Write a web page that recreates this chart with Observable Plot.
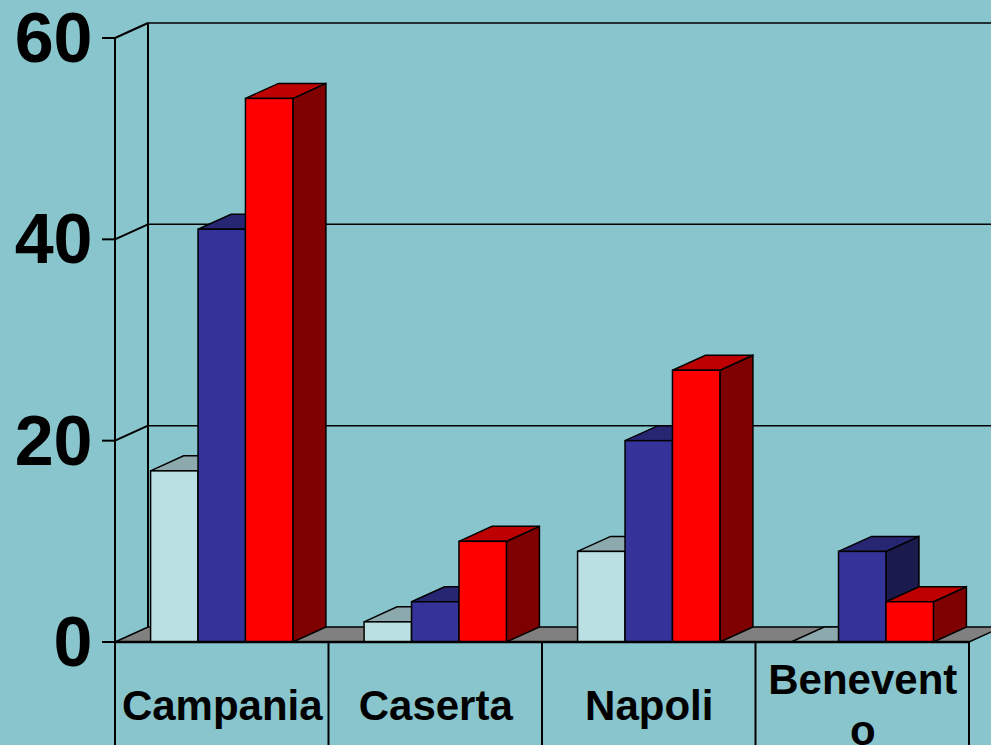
<!DOCTYPE html>
<html>
<head>
<meta charset="utf-8">
<script src="https://cdn.jsdelivr.net/npm/d3@7"></script>
<script src="https://cdn.jsdelivr.net/npm/@observablehq/plot@0.6"></script>
<style>
html, body { margin: 0; padding: 0; background: #89C5CD; overflow: hidden; }
</style>
</head>
<body>
<div id="chart"></div>
<script>
// ---- data ----
const categories = ["Campania", "Caserta", "Napoli", "Benevento"];
const categoryLabels = ["Campania", "Caserta", "Napoli", "Benevent\no"];
const series1 = [17, 2, 9, 0];
const series2 = [41, 4, 20, 9];
const series3 = [54, 10, 27, 4];
const yTicks = [0, 20, 40, 60];

// ---- style ----
const BG = "#89C5CD";
const frontColors = ["#BBE0E3", "#333399", "#FF0000"];
const topColors = ["#8CA9AD", "#262673", "#BF0000"];
const sideColors = ["#5E7174", "#1A1A4C", "#7F0000"];
const DX = 33, DY = -15;        // 3D depth offset in pixels
const GAP = 1.5;                 // Excel gap width 150%

const bars = categories.flatMap((c, ci) =>
  [series1, series2, series3].map((s, si) => ({category: c, ci, si, value: s[ci]})));
const slotX1 = d => d.ci + (GAP / 2 + d.si) / (3 + GAP);
const slotX2 = d => d.ci + (GAP / 2 + d.si + 1) / (3 + GAP);

// back walls, gridlines and floor
function walls(index, {x, y}, values, dims) {
  const g = d3.create("svg:g").attr("stroke", "#000").attr("stroke-linejoin", "miter");
  const x0 = x(0), x4 = x(categories.length);
  g.append("path")
    .attr("d", `M${x0},${y(0)}L${x4},${y(0)}L${x4 + DX},${y(0) + DY}L${x0 + DX},${y(0) + DY}Z`)
    .attr("fill", "#808080").attr("stroke-width", 1.5);
  for (const v of yTicks) {
    if (v === 0) continue;
    g.append("line").attr("x1", x0 + DX).attr("x2", dims.width + 50)
      .attr("y1", y(v) + DY).attr("y2", y(v) + DY).attr("stroke-width", 1.5);
    g.append("line").attr("x1", x0).attr("x2", x0 + DX)
      .attr("y1", y(v)).attr("y2", y(v) + DY).attr("stroke-width", 2);
  }
  g.append("line").attr("x1", x0 + DX).attr("x2", x0 + DX)
    .attr("y1", y(yTicks[yTicks.length - 1]) + DY).attr("y2", y(0) + DY).attr("stroke-width", 2);
  return g.node();
}

function sides(index, {x, y}) {
  const g = d3.create("svg:g").attr("stroke", "#000").attr("stroke-width", 1.5).attr("stroke-linejoin", "miter");
  for (const d of bars) {
    const xa = x(slotX2(d)), y0 = y(0), yv = y(d.value);
    g.append("path")
      .attr("d", `M${xa},${y0}L${xa},${yv}L${xa + DX},${yv + DY}L${xa + DX},${y0 + DY}Z`)
      .attr("fill", sideColors[d.si]);
  }
  return g.node();
}

function tops(index, {x, y}) {
  const g = d3.create("svg:g").attr("stroke", "#000").attr("stroke-width", 1.5).attr("stroke-linejoin", "miter");
  for (const d of bars) {
    const xa = x(slotX1(d)), xb = x(slotX2(d)), yv = y(d.value);
    g.append("path")
      .attr("d", `M${xa},${yv}L${xb},${yv}L${xb + DX},${yv + DY}L${xa + DX},${yv + DY}Z`)
      .attr("fill", topColors[d.si]);
  }
  return g.node();
}

// front axis, ticks and category table lines
function frontAxis(index, {x, y}, values, dims) {
  const g = d3.create("svg:g").attr("stroke", "#000");
  const x0 = x(0);
  g.append("line").attr("x1", x0).attr("x2", x0)
    .attr("y1", y(yTicks[yTicks.length - 1])).attr("y2", dims.height).attr("stroke-width", 2);
  for (const v of yTicks) {
    g.append("line").attr("x1", x0 - 13).attr("x2", x0).attr("y1", y(v)).attr("y2", y(v)).attr("stroke-width", 2);
  }
  g.append("line").attr("x1", x0).attr("x2", x(categories.length))
    .attr("y1", y(0)).attr("y2", y(0)).attr("stroke-width", 2.5);
  for (let i = 1; i <= categories.length; i++) {
    g.append("line").attr("x1", x(i)).attr("x2", x(i))
      .attr("y1", y(0)).attr("y2", dims.height).attr("stroke-width", 2);
  }
  return g.node();
}

const chart = Plot.plot({
  width: 991,
  height: 745,
  marginLeft: 115,
  marginRight: 22,
  marginTop: 38,
  marginBottom: 103,
  x: {type: "linear", domain: [0, categories.length], axis: null},
  y: {type: "linear", domain: [0, 60], axis: null},
  style: {background: BG, overflow: "hidden", fontFamily: "Liberation Sans, Arial, sans-serif"},
  marks: [
    walls,
    sides,
    tops,
    Plot.rect(bars, {
      x1: slotX1, x2: slotX2, y1: 0, y2: "value",
      fill: d => frontColors[d.si], stroke: "#000", strokeWidth: 1.5
    }),
    frontAxis,
    Plot.text(yTicks, {
      x: 0, y: d => d, text: d => String(d), dx: -23, dy: 1, textAnchor: "end",
      fontSize: 70, fontWeight: "bold", fill: "#000", fontFamily: "Liberation Sans, Arial, sans-serif"
    }),
    Plot.text(categoryLabels, {
      x: (d, i) => i + 0.5, y: 0, text: d => d, dy: 61, lineHeight: 1.2,
      fontSize: 42, fontWeight: "bold", fill: "#000", fontFamily: "Liberation Sans, Arial, sans-serif"
    })
  ]
});
document.getElementById("chart").appendChild(chart);
</script>
</body>
</html>
